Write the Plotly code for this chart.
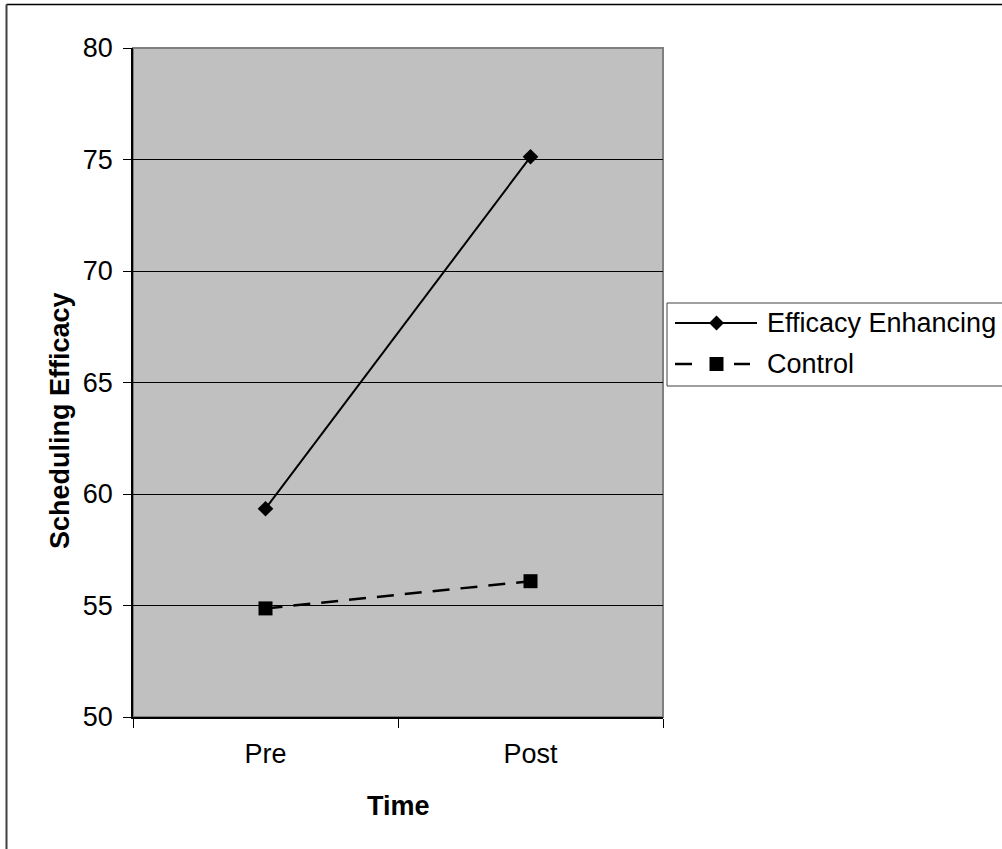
import plotly.graph_objects as go

# ---- data ----
time_points = ["Pre", "Post"]
efficacy_enhancing = [59.34, 75.12]
control = [54.87, 56.09]
y_ticks = [50, 55, 60, 65, 70, 75, 80]
series_names = ["Efficacy Enhancing", "Control"]

W, H = 1002, 849
L, R, T, B = 133, 339, 48, 132
PW, PH = W - L - R, H - T - B


def px2x(px):
    return (px - L) / PW


def py2y(py):
    return (H - B - py) / PH


FONT = "Liberation Sans, Arial, sans-serif"

fig = go.Figure()
fig.add_trace(go.Scatter(
    x=time_points, y=efficacy_enhancing, name=series_names[0], mode="lines+markers",
    line=dict(color="black", width=2),
    marker=dict(symbol="diamond", size=12, color="black"),
    showlegend=False,
))
fig.add_trace(go.Scatter(
    x=time_points, y=control, name=series_names[1], mode="lines+markers",
    line=dict(color="black", width=2.5, dash="17px,11px"),
    marker=dict(symbol="square", size=14, color="black"),
    showlegend=False,
))

shapes = []
# plot-area gray border
shapes.append(dict(type="rect", xref="paper", yref="paper", x0=0, x1=1, y0=0, y1=1,
                   line=dict(color="#808080", width=2), layer="below"))
# outer chart border (top and left visible)
shapes.append(dict(type="line", xref="paper", yref="paper", x0=px2x(6.5), x1=px2x(1010),
                   y0=py2y(4.5), y1=py2y(4.5), line=dict(color="black", width=1.5)))
shapes.append(dict(type="line", xref="paper", yref="paper", x0=px2x(6.5), x1=px2x(6.5),
                   y0=py2y(4.5), y1=py2y(860), line=dict(color="#404040", width=2)))
# legend box
shapes.append(dict(type="rect", xref="paper", yref="paper", x0=px2x(667), x1=px2x(1012),
                   y0=py2y(386), y1=py2y(303), line=dict(color="#404040", width=1),
                   fillcolor="white"))
# legend entry 1: solid line + diamond
shapes.append(dict(type="line", xref="paper", yref="paper", x0=px2x(675), x1=px2x(757),
                   y0=py2y(323), y1=py2y(323), line=dict(color="black", width=2)))
shapes.append(dict(type="path", xref="paper", yref="paper", xsizemode="pixel", ysizemode="pixel",
                   xanchor=px2x(716.5), yanchor=py2y(323),
                   path="M -7.5,0 L 0,7.5 L 7.5,0 L 0,-7.5 Z", fillcolor="black",
                   line=dict(color="black", width=0)))
# legend entry 2: dashes + square
for a, b in [(675, 692), (734, 750)]:
    shapes.append(dict(type="line", xref="paper", yref="paper", x0=px2x(a), x1=px2x(b),
                       y0=py2y(364), y1=py2y(364), line=dict(color="black", width=2.5)))
shapes.append(dict(type="rect", xref="paper", yref="paper", xsizemode="pixel", ysizemode="pixel",
                   xanchor=px2x(716.5), yanchor=py2y(364), x0=-7, x1=7, y0=-7, y1=7,
                   fillcolor="black", line=dict(color="black", width=0)))

annotations = [
    dict(text=series_names[0], x=px2x(765), y=py2y(323), xref="paper", yref="paper",
         xanchor="left", yanchor="middle", showarrow=False,
         font=dict(family=FONT, size=27, color="black")),
    dict(text=series_names[1], x=px2x(765), y=py2y(364), xref="paper", yref="paper",
         xanchor="left", yanchor="middle", showarrow=False,
         font=dict(family=FONT, size=27, color="black")),
    dict(text="<b>Scheduling Efficacy</b>", x=px2x(60), y=py2y(421), xref="paper", yref="paper",
         xanchor="center", yanchor="middle", textangle=-90, showarrow=False,
         font=dict(family=FONT, size=27, color="black")),
    dict(text="<b>Time</b>", x=px2x(398), y=py2y(806), xref="paper", yref="paper",
         xanchor="center", yanchor="middle", showarrow=False,
         font=dict(family=FONT, size=27, color="black")),
]

fig.update_layout(
    width=W, height=H,
    margin=dict(l=L, r=R, t=T, b=B, autoexpand=False),
    paper_bgcolor="white", plot_bgcolor="#C0C0C0",
    font=dict(family=FONT, size=27, color="black"),
    shapes=shapes, annotations=annotations,
    showlegend=False,
)
fig.update_xaxes(
    type="category", range=[-0.5, 1.5], tickson="boundaries",
    ticks="outside", ticklen=9, tickcolor="black", tickwidth=1,
    showline=True, linecolor="black", linewidth=1.5,
    showgrid=False, zeroline=False, ticklabelstandoff=12,
    tickfont=dict(family=FONT, size=27, color="black"),
)
fig.update_yaxes(
    range=[50, 80], tickvals=y_ticks,
    ticks="outside", ticklen=8, tickcolor="black", tickwidth=1,
    showline=True, linecolor="black", linewidth=1.5,
    showgrid=True, gridcolor="black", gridwidth=1, zeroline=False,
    ticklabelstandoff=5,
    tickfont=dict(family=FONT, size=27, color="black"),
)

fig.write_html("out.html")
